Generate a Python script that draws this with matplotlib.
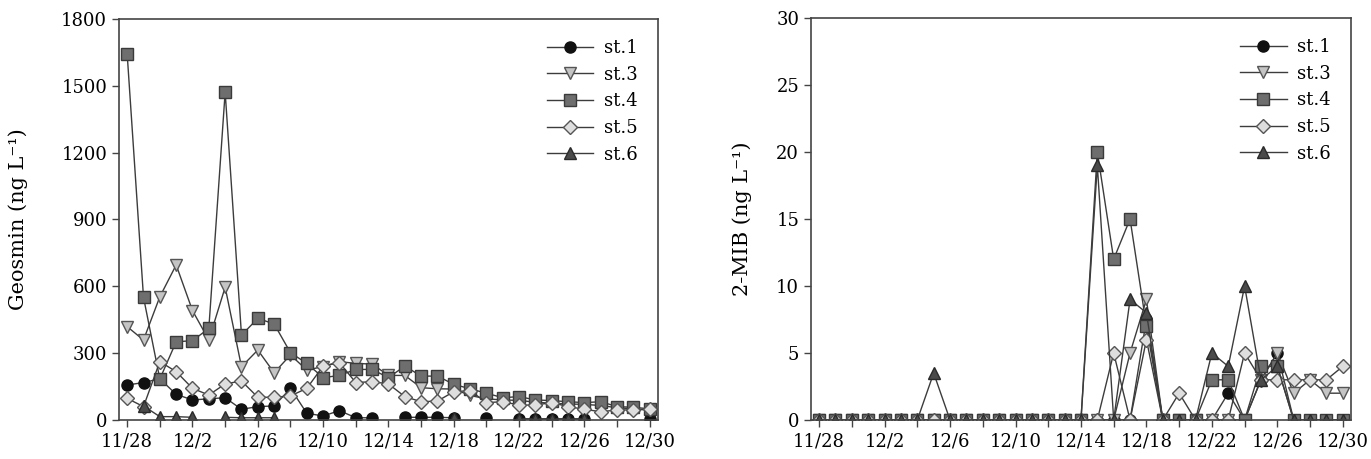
import numpy as np
import matplotlib
matplotlib.use("Agg")
import matplotlib.pyplot as plt
import matplotlib.transforms as mtransforms
from matplotlib.ticker import MultipleLocator

nan = np.nan

# dates 11/28 .. 12/30, one sample per day
dates = ["11/28", "11/29", "11/30"] + ["12/%d" % d for d in range(1, 31)]
days = np.arange(len(dates))
tick_pos = list(range(0, 33, 4))
tick_labels = [dates[i] for i in tick_pos]

# Geosmin (ng/L)
geo_st1 = [157, 168, 185, 115, 90, 95, 100, 48, 60, 63, 142, 30, 18, 42, 10, 10, nan,
           12, 12, 12, 10, nan, 8, nan, 5, 5, 5, 5, 5, nan, nan, nan, 5]
geo_st3 = [419, 359, 553, 696, 491, 359, 596, 239, 314, 212, 292, 224, 240, 262, 254, 251, 200,
           200, 145, 140, 139, 110, 95, 90, 88, 80, 75, 72, 70, 65, 55, 50, 45]
geo_st4 = [1643, 551, 184, 351, 356, 411, 1472, 381, 456, 431, 302, 254, 190, 200, 227, 227, 190,
           242, 197, 197, 160, 140, 120, 100, 105, 90, 87, 82, 78, 82, 60, 57, 50]
geo_st5 = [97, 60, 262, 217, 142, 112, 162, 175, 102, 102, 108, 142, 242, 257, 168, 172, 162,
           105, 82, 85, 127, 132, 78, 82, 67, 67, 78, 60, 48, 37, 45, 45, 48]
geo_st6 = [nan, 63, 15, 15, 12, nan, 12, 10, 10, 10, nan, nan, nan, nan, nan, nan, nan,
           nan, nan, nan, 8, nan, nan, nan, 5, 5, 5, 5, 5, nan, nan, nan, nan]

# 2-MIB (ng/L)
mib_st1 = [0]*20 + [7.5, 0, 0, 0, 0, 2, 0, 3, 5, 0, 0, 0, 0]
mib_st3 = [0]*19 + [5, 9, 0, 0, 0, 0, 0, 0, 3, 5, 2, 3, 2, 2]
mib_st4 = [0]*17 + [20, 12, 15, 7, 0, 0, 0, 3, 3, 0, 4, 4, 0, 0, 0, 0]
mib_st5 = [0]*18 + [5, 0, 6, 0, 2, 0, 0, 0, 5, 3, 3, 3, 3, 3, 4]
mib_st6 = [0]*7 + [3.5] + [0]*9 + [19, 0, 9, 8, 0, 0, 0, 5, 4, 10, 3, 4, 0, 0, 0, 0]

labels = ["st.1", "st.3", "st.4", "st.5", "st.6"]
styles = [
    dict(marker="o", ms=8, mfc="#111111", mec="#111111"),
    dict(marker="v", ms=9, mfc="#c4c4c4", mec="#555555"),
    dict(marker="s", ms=8.5, mfc="#6e6e6e", mec="#3a3a3a"),
    dict(marker="D", ms=7, mfc="#dedede", mec="#555555"),
    dict(marker="^", ms=9, mfc="#4a4a4a", mec="#2a2a2a"),
]

plt.rcParams["font.family"] = ["DejaVu Serif"]
plt.rcParams["font.size"] = 13

fig = plt.figure(figsize=(13.71, 4.59), dpi=100)
ax1 = fig.add_axes([0.0868, 0.085, 0.3931, 0.8736])
ax2 = fig.add_axes([0.5915, 0.085, 0.3939, 0.8758])
shift = mtransforms.ScaledTranslation(-8 / 100, 0, fig.dpi_scale_trans)


def draw(ax, series, ymax, ystep, ylabel, label_x):
    for vals, lab, st in zip(series, labels, styles):
        ax.plot(days, vals, color="#3c3c3c", lw=1.0, mew=1.0, label=lab, **st)
    ax.set_xlim(-0.5, 32.5)
    ax.set_ylim(0, ymax)
    ax.set_xticks(tick_pos)
    ax.set_xticklabels(tick_labels)
    for t in ax.get_xticklabels():
        t.set_transform(t.get_transform() + shift)
    ax.xaxis.set_minor_locator(MultipleLocator(2))
    ax.yaxis.set_major_locator(MultipleLocator(ystep))
    ax.tick_params(which="both", direction="out", length=5, width=1, color="#444444")
    ax.tick_params(axis="x", pad=4)
    for sp in ax.spines.values():
        sp.set_color("#444444")
        sp.set_linewidth(1.2)
    ax.set_ylabel(ylabel, fontsize=15)
    ax.yaxis.set_label_coords(label_x, 0.5)
    ax.legend(loc="upper right", frameon=False, handlelength=2.6, handletextpad=0.6,
              labelspacing=0.48, borderaxespad=0.7, fontsize=13)


draw(ax1, [geo_st1, geo_st3, geo_st4, geo_st5, geo_st6], 1800, 300,
     "Geosmin (ng L⁻¹)", -0.168)
draw(ax2, [mib_st1, mib_st3, mib_st4, mib_st5, mib_st6], 30, 5,
     "2-MIB (ng L⁻¹)", -0.11)

fig.savefig("out.png", dpi=100)
